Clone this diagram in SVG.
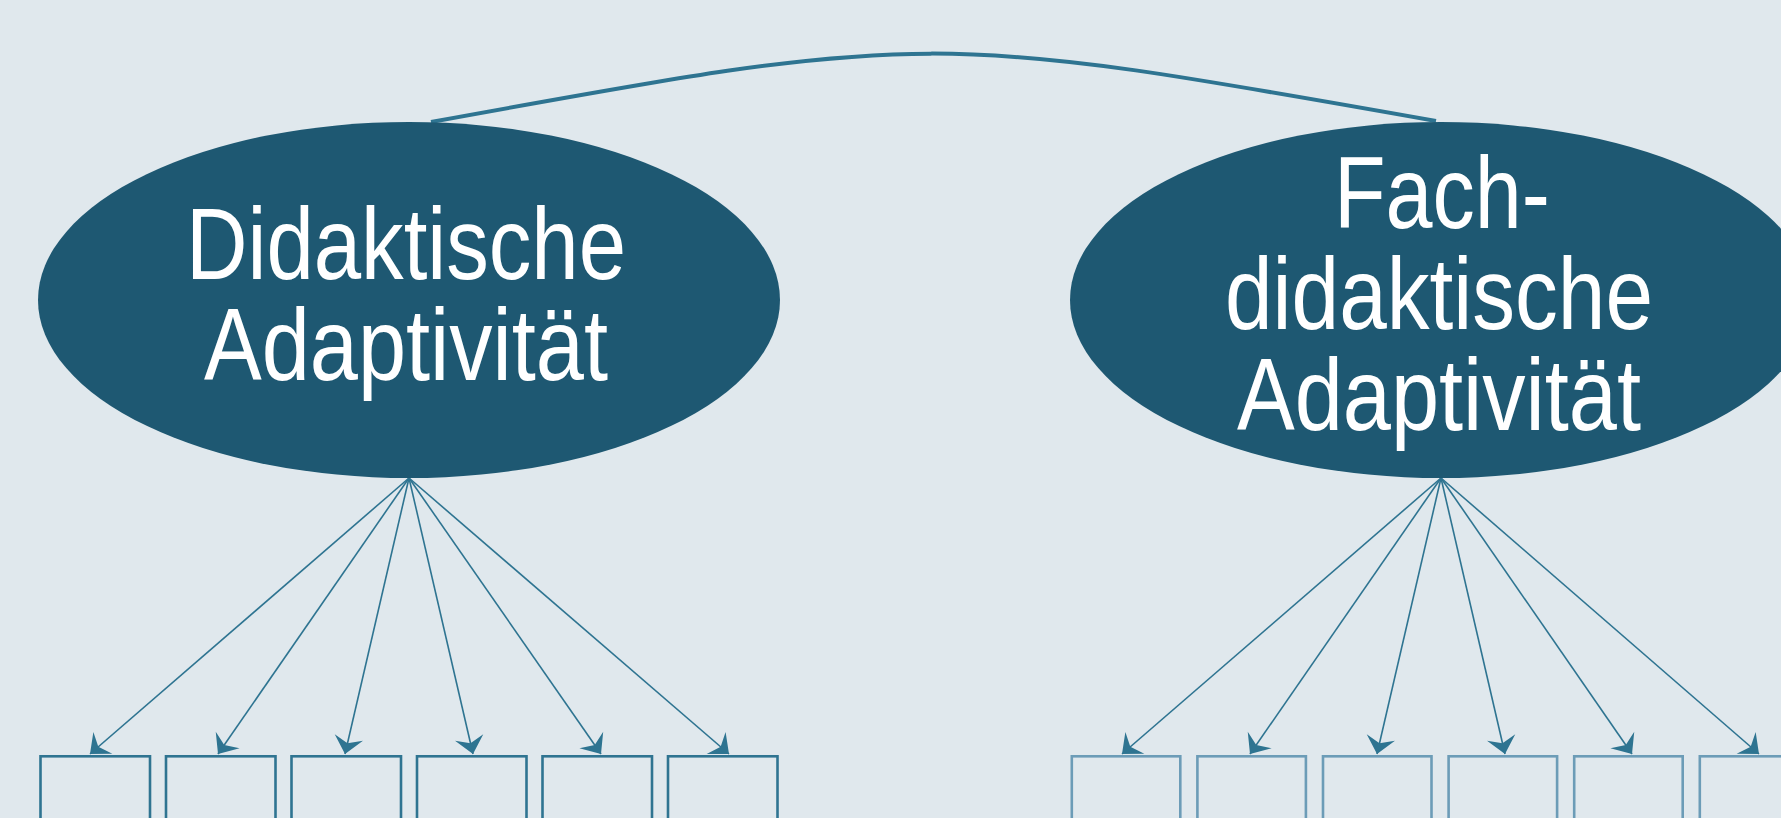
<svg xmlns="http://www.w3.org/2000/svg" width="1781" height="818" viewBox="0 0 1781 818">
  <style>
    .latent { fill: #1e5872; }
    .label { fill: #ffffff; font-family: "Liberation Sans Narrow", "Liberation Sans", Arial, sans-serif; font-size: 102px; text-anchor: middle; }
    .load { stroke: #2e7491; stroke-width: 1.6; fill: none; marker-end: url(#arrow); }
    .cov { stroke: #2e7491; stroke-width: 4; fill: none; }
    .ind-a { fill: none; stroke: #2f7491; stroke-width: 2.6; }
    .ind-b { fill: none; stroke: #6c9cb7; stroke-width: 2.6; }
  </style>
  <defs>
    <marker id="arrow" markerUnits="userSpaceOnUse" orient="auto" refX="0" refY="0" viewBox="-18 -16 19 32" markerWidth="19" markerHeight="32">
      <path d="M0,0 L-17,-14.5 L-11,0 L-17,14.5 Z" fill="#2e7491"/>
    </marker>
  </defs>

  <rect width="1781" height="818" fill="#e0e8ed"/>

  <!-- connectors: covariance arc and factor loadings -->
  <g id="connectors">
    <path class="cov" d="M431,122 C930,31 930,31 1436,121"/>
    <line class="load" x1="409" y1="478" x2="90" y2="754"/>
    <line class="load" x1="409" y1="478" x2="218" y2="754"/>
    <line class="load" x1="409" y1="478" x2="345" y2="754"/>
    <line class="load" x1="409" y1="478" x2="473" y2="754"/>
    <line class="load" x1="409" y1="478" x2="601" y2="754"/>
    <line class="load" x1="409" y1="478" x2="729" y2="754"/>
    <line class="load" x1="1441" y1="478" x2="1122" y2="754"/>
    <line class="load" x1="1441" y1="478" x2="1250" y2="754"/>
    <line class="load" x1="1441" y1="478" x2="1377" y2="754"/>
    <line class="load" x1="1441" y1="478" x2="1505" y2="754"/>
    <line class="load" x1="1441" y1="478" x2="1632" y2="754"/>
    <line class="load" x1="1441" y1="478" x2="1759" y2="754"/>
  </g>

  <!-- latent factors -->
  <g id="factor-didaktisch">
    <ellipse class="latent" cx="409" cy="300" rx="371" ry="178"/>
    <text class="label" x="406" y="279" textLength="440" lengthAdjust="spacingAndGlyphs">Didaktische</text>
    <text class="label" x="406" y="380" textLength="404" lengthAdjust="spacingAndGlyphs">Adaptivität</text>
  </g>
  <g id="factor-fachdidaktisch">
    <ellipse class="latent" cx="1441" cy="300" rx="371" ry="178"/>
    <text class="label" x="1442" y="228" textLength="216" lengthAdjust="spacingAndGlyphs">Fach-</text>
    <text class="label" x="1439" y="329" textLength="428" lengthAdjust="spacingAndGlyphs">didaktische</text>
    <text class="label" x="1439" y="430" textLength="404" lengthAdjust="spacingAndGlyphs">Adaptivität</text>
  </g>

  <!-- indicators, first factor -->
  <g id="item-a1"><rect class="ind-a" x="40.5" y="756.3" width="109.5" height="100"/></g>
  <g id="item-a2"><rect class="ind-a" x="166" y="756.3" width="109.5" height="100"/></g>
  <g id="item-a3"><rect class="ind-a" x="291.5" y="756.3" width="109.5" height="100"/></g>
  <g id="item-a4"><rect class="ind-a" x="417" y="756.3" width="109.5" height="100"/></g>
  <g id="item-a5"><rect class="ind-a" x="542.5" y="756.3" width="109.5" height="100"/></g>
  <g id="item-a6"><rect class="ind-a" x="668" y="756.3" width="109.5" height="100"/></g>

  <!-- indicators, second factor -->
  <g id="item-b1"><rect class="ind-b" x="1071.8" y="756.3" width="108.5" height="100"/></g>
  <g id="item-b2"><rect class="ind-b" x="1197.4" y="756.3" width="108.5" height="100"/></g>
  <g id="item-b3"><rect class="ind-b" x="1323" y="756.3" width="108.5" height="100"/></g>
  <g id="item-b4"><rect class="ind-b" x="1448.6" y="756.3" width="108.5" height="100"/></g>
  <g id="item-b5"><rect class="ind-b" x="1574.2" y="756.3" width="108.5" height="100"/></g>
  <g id="item-b6"><rect class="ind-b" x="1699.8" y="756.3" width="108.5" height="100"/></g>
</svg>
